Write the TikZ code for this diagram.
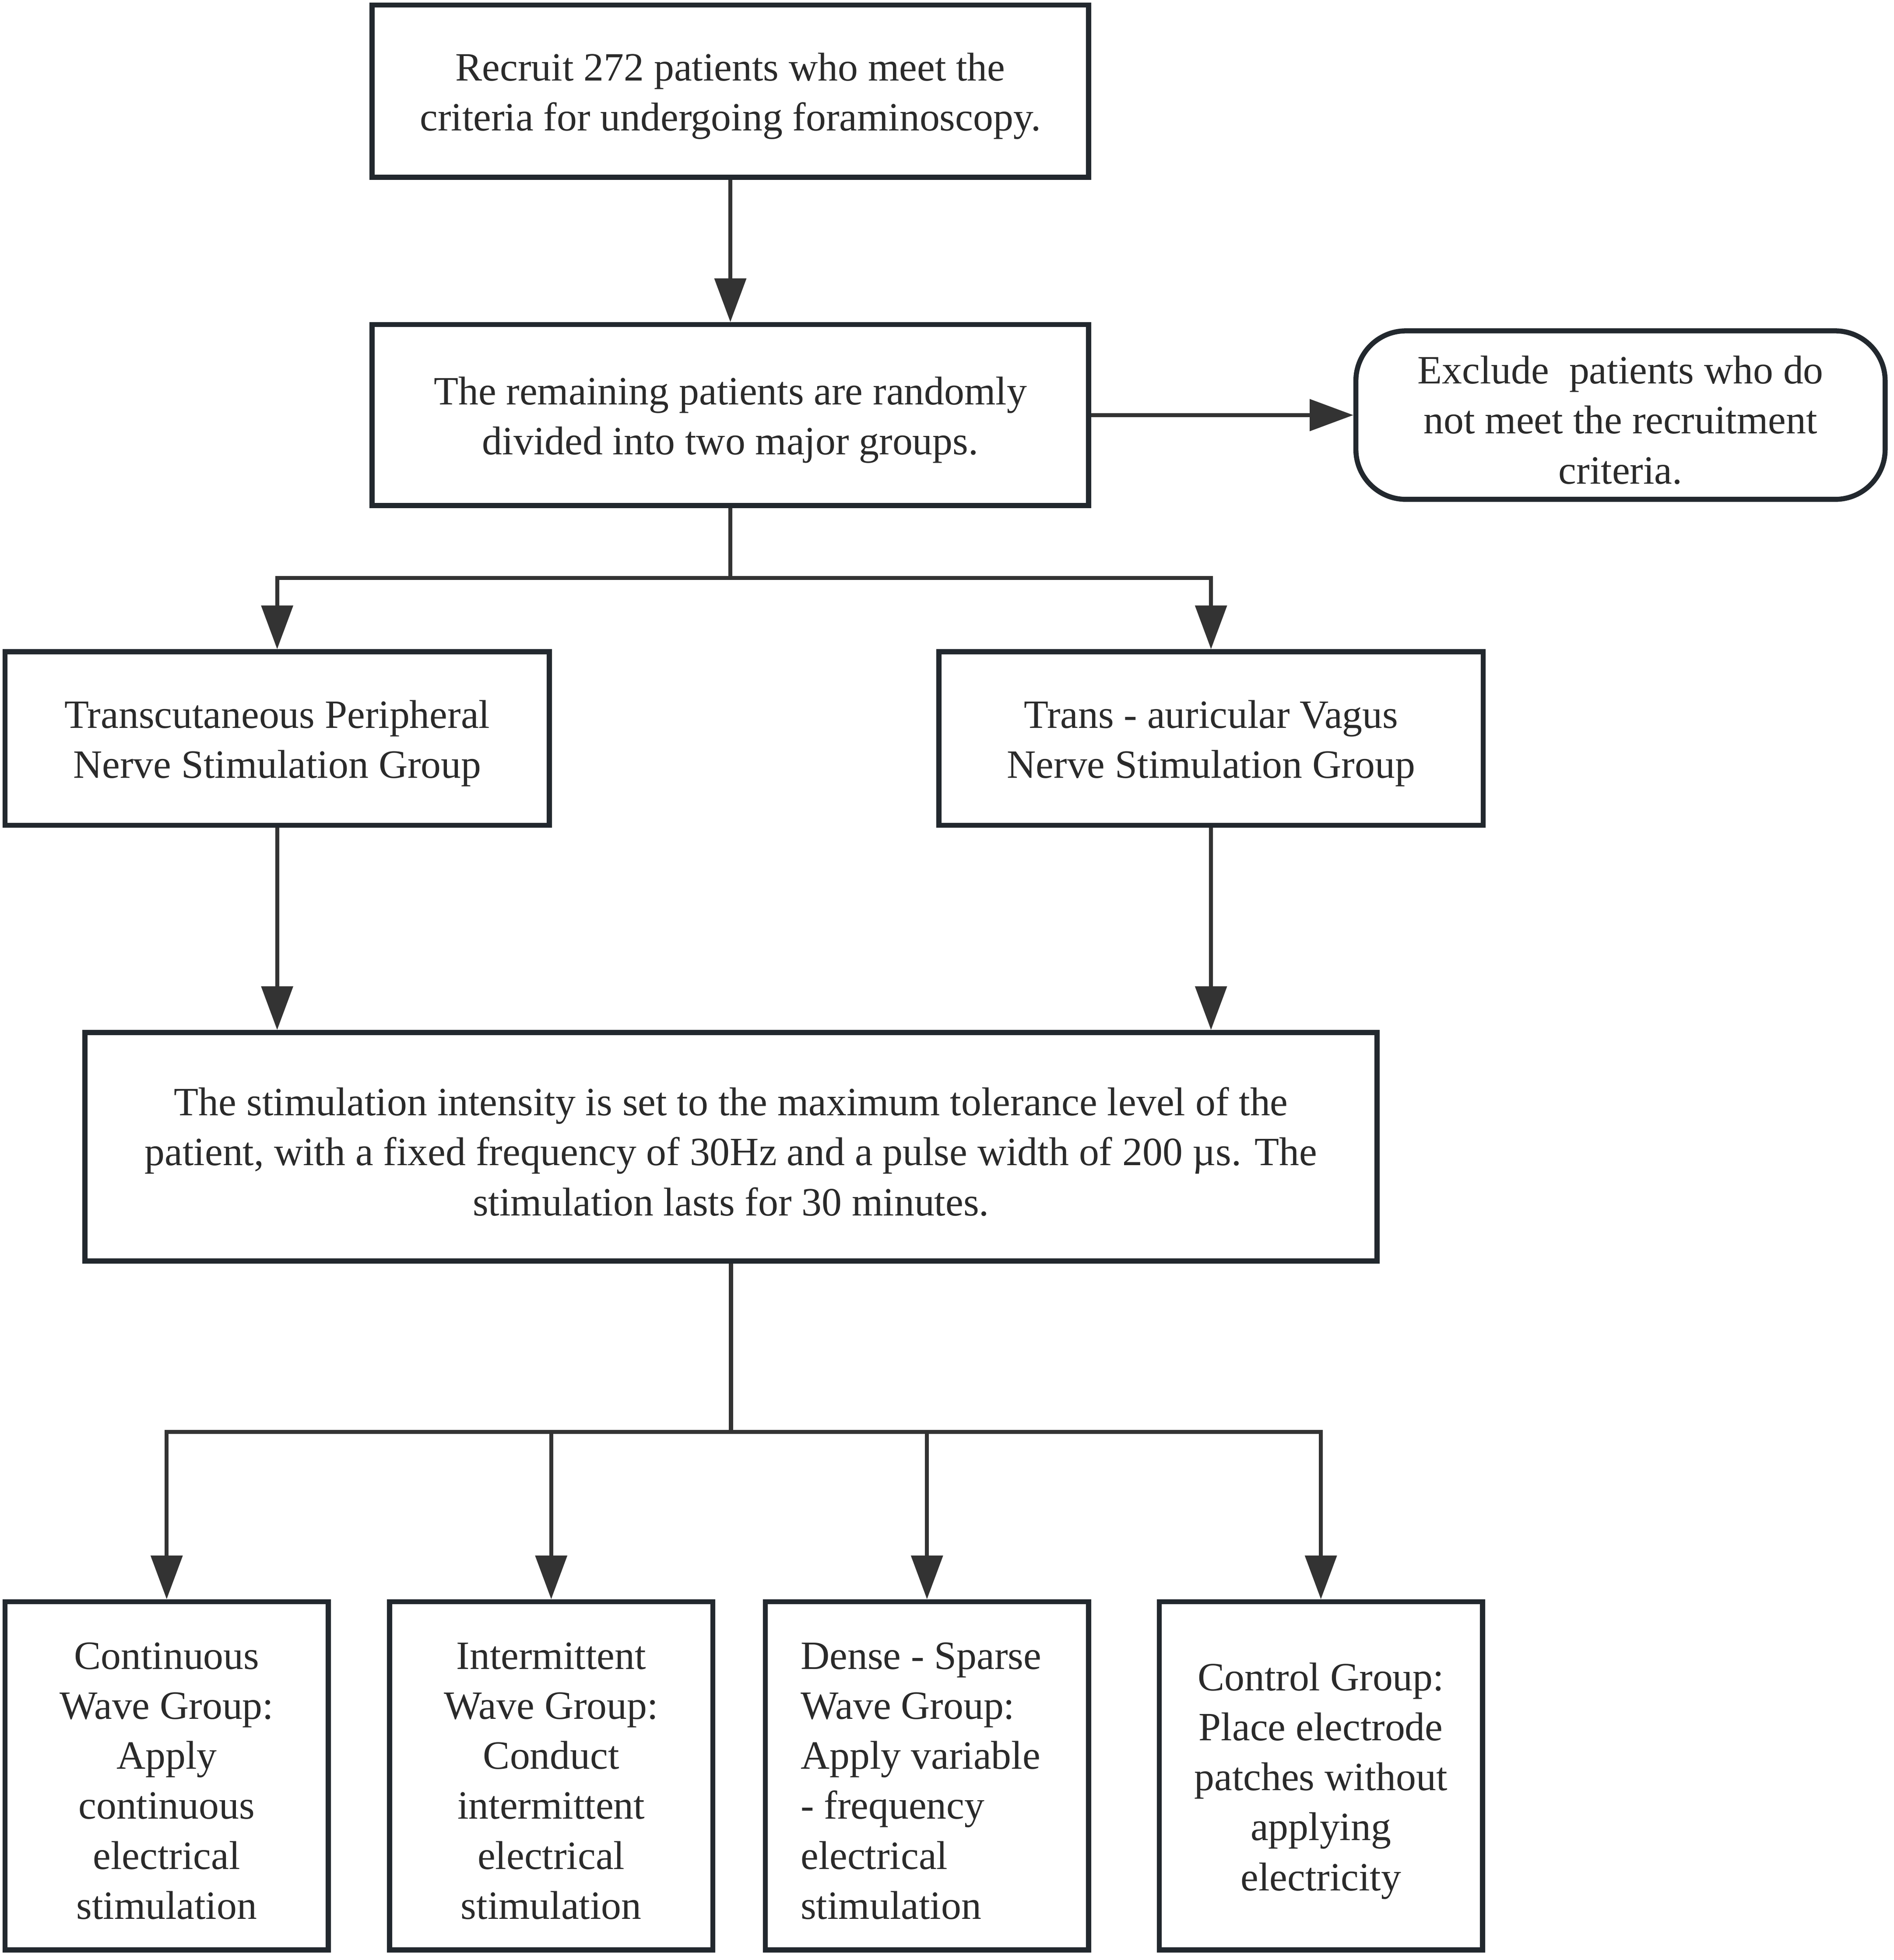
\documentclass[tikz,border=0pt]{standalone}
\usepackage{fontspec}
\setmainfont{Liberation Serif}
\newfontfamily\tnr{Liberation Serif}
\usetikzlibrary{arrows.meta}
\definecolor{bordercol}{HTML}{22282E}
\definecolor{linecol}{HTML}{333333}
\definecolor{txtcol}{HTML}{2A2A2A}
\begin{document}
\begin{tikzpicture}[x=0.02cm,y=-0.02cm,
  txt/.style={inner sep=0pt, text=txtcol, font=\tnr\fontsize{18.3}{22.8}\selectfont},
  box/.style={draw=bordercol, line width=2.3pt, fill=white, inner sep=0pt},
  lbl/.style={txt, align=center, yshift=-0.08cm},
  conn/.style={draw=linecol, line width=1.8pt},
  arr/.style={conn, -{Triangle[length=0.7cm, width=0.5cm]}}]
\useasboundingbox (0,0) rectangle (1517,1570);
\fill[white] (0,0) rectangle (1517,1570);

\node[box, minimum width=11.48cm, minimum height=2.76cm,
  label={[lbl]center:{Recruit 272 patients who meet the\\criteria for undergoing foraminoscopy.}}] (b1) at (585,73) {};
\node[box, minimum width=11.48cm, minimum height=2.9cm,
  label={[lbl]center:{The remaining patients are randomly\\divided into two major groups.}}] (b2) at (585,332.5) {};
\node[box, rounded corners=0.8cm, minimum width=8.48cm, minimum height=2.7cm,
  label={[lbl]center:{Exclude~ patients who do\\not meet the recruitment\\criteria.}}] (ex) at (1298,332.5) {};
\node[box, minimum width=8.72cm, minimum height=2.78cm,
  label={[lbl]center:{Transcutaneous Peripheral\\Nerve Stimulation Group}}] (b3) at (222,591.5) {};
\node[box, minimum width=8.72cm, minimum height=2.78cm,
  label={[lbl]center:{Trans - auricular Vagus\\Nerve Stimulation Group}}] (b4) at (970,591.5) {};
\node[box, minimum width=20.7cm, minimum height=3.66cm,
  label={[lbl]center:{The stimulation intensity is set to the maximum tolerance level of the\\patient, with a fixed frequency of 30Hz and a pulse width of 200 µs. The\\stimulation lasts for 30 minutes.}}] (b5) at (585.5,918.5) {};
\node[box, minimum width=5.18cm, minimum height=5.58cm,
  label={[lbl]center:{Continuous\\Wave Group:\\Apply\\continuous\\electrical\\stimulation}}] (g1) at (133.5,1422.5) {};
\node[box, minimum width=5.18cm, minimum height=5.58cm,
  label={[lbl]center:{Intermittent\\Wave Group:\\Conduct\\intermittent\\electrical\\stimulation}}] (g2) at (441.5,1422.5) {};
\node[box, minimum width=5.18cm, minimum height=5.58cm] (g3) at (742.5,1422.5) {};
\node[txt, align=left, anchor=west] (g3t) at (641,1426.5)
  {Dense - Sparse\\Wave Group:\\Apply variable\\- frequency\\electrical\\stimulation};
\node[box, minimum width=5.18cm, minimum height=5.58cm,
  label={[lbl]center:{Control Group:\\Place electrode\\patches without\\applying\\electricity}}] (g4) at (1058,1422.5) {};

\coordinate (j1) at (585,463);
\coordinate (j2) at (585.5,1147);

\draw[arr] (b1) -- (b2);
\draw[arr] (b2) -- (ex);
\draw[conn] (b2.south) -- (j1);
\draw[arr] (j1) -| (b3.north);
\draw[arr] (j1) -| (b4.north);
\draw[arr] (b3.south) -- (b3.south |- b5.north);
\draw[arr] (b4.south) -- (b4.south |- b5.north);
\draw[conn] (b5.south) -- (j2);
\draw[arr] (j2) -| (g1.north);
\draw[arr] (j2) -| (g2.north);
\draw[arr] (j2) -| (g3.north);
\draw[arr] (j2) -| (g4.north);
\end{tikzpicture}
\end{document}
